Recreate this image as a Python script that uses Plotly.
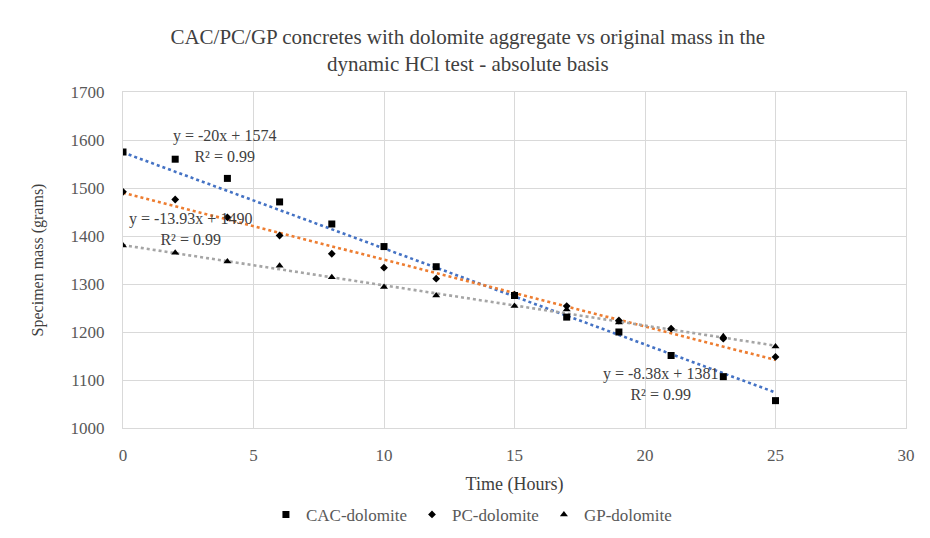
import plotly.graph_objects as go

# ---- data ----
hours = [0, 2, 4, 6, 8, 10, 12, 15, 17, 19, 21, 23, 25]
cac = [1575, 1560, 1520, 1471, 1425, 1378, 1336, 1276, 1231, 1200, 1151, 1107, 1057]
pc = [1492, 1476, 1439, 1401, 1363, 1334, 1311, 1278, 1254, 1224, 1207, 1186, 1148]
gp = [1380, 1365, 1347, 1338, 1314, 1294, 1276, 1254, 1247, 1220, 1207, 1191, 1170]

series_names = ["CAC-dolomite", "PC-dolomite", "GP-dolomite"]
trend_slopes = [-20, -13.93, -8.38]
trend_intercepts = [1574, 1490, 1381]
trend_labels = ["y = -20x + 1574<br>R² = 0.99",
                "y = -13.93x + 1490<br>R² = 0.99",
                "y = -8.38x + 1381<br>R² = 0.99"]
trend_x = [0, 25]

# ---- styles ----
FONT = "Liberation Serif"
trend_colors = ["#4472C4", "#ED7D31", "#A5A5A5"]
symbols = ["square", "diamond", "triangle-up"]
sizes = [7, 6, 7]
label_pos = [(3.9, 1588), (2.6, 1415), (20.6, 1092)]

fig = go.Figure()

values = [cac, pc, gp]
for i in range(3):
    ty = [trend_slopes[i] * x + trend_intercepts[i] for x in trend_x]
    fig.add_trace(go.Scatter(x=trend_x, y=ty, mode="lines",
                             line=dict(color=trend_colors[i], width=2.6, dash="dot"),
                             showlegend=False, hoverinfo="skip"))
for i in range(3):
    fig.add_trace(go.Scatter(x=hours, y=values[i], mode="markers", name=series_names[i],
                             marker=dict(symbol=symbols[i], size=sizes[i], color="black")))

for i in range(3):
    fig.add_annotation(x=label_pos[i][0], y=label_pos[i][1], text=trend_labels[i],
                       showarrow=False, font=dict(family=FONT, size=16, color="#404040"),
                       align="center")

grid = "#D9D9D9"
fig.update_layout(
    width=930, height=538,
    margin=dict(l=123, r=24, t=92, b=110, autoexpand=False),
    paper_bgcolor="white", plot_bgcolor="white",
    font=dict(family=FONT, color="#595959"),
    title=dict(text="CAC/PC/GP concretes with dolomite aggregate vs original mass in the<br>dynamic HCl test - absolute basis",
               x=0.503, xanchor="center", y=0.918, yanchor="middle",
               font=dict(family=FONT, size=21, color="#404040")),
    xaxis=dict(range=[0, 30], dtick=5, tick0=0, showgrid=True, gridcolor=grid, gridwidth=1,
               zeroline=False, showline=True, linecolor=grid, mirror=True,
               ticks="", ticklabelstandoff=12,
               tickfont=dict(family=FONT, size=17, color="#595959"),
               title=dict(text="Time (Hours)", font=dict(family=FONT, size=18, color="#404040"),
                          standoff=12)),
    yaxis=dict(range=[1000, 1700], dtick=100, showgrid=True, gridcolor=grid, gridwidth=1,
               zeroline=False, showline=True, linecolor=grid, mirror=True,
               ticks="", ticklabelstandoff=14,
               tickfont=dict(family=FONT, size=17, color="#595959"),
               title=dict(text="Specimen mass (grams)", font=dict(family=FONT, size=16, color="#404040"),
                          standoff=22)),
    legend=dict(orientation="h", x=0.445, xanchor="center", yref="container", y=0.043,
                yanchor="middle",
                font=dict(family=FONT, size=17, color="#595959"), itemwidth=30,
                bgcolor="rgba(0,0,0,0)"),
    showlegend=True,
)

fig.write_html("out.html")
